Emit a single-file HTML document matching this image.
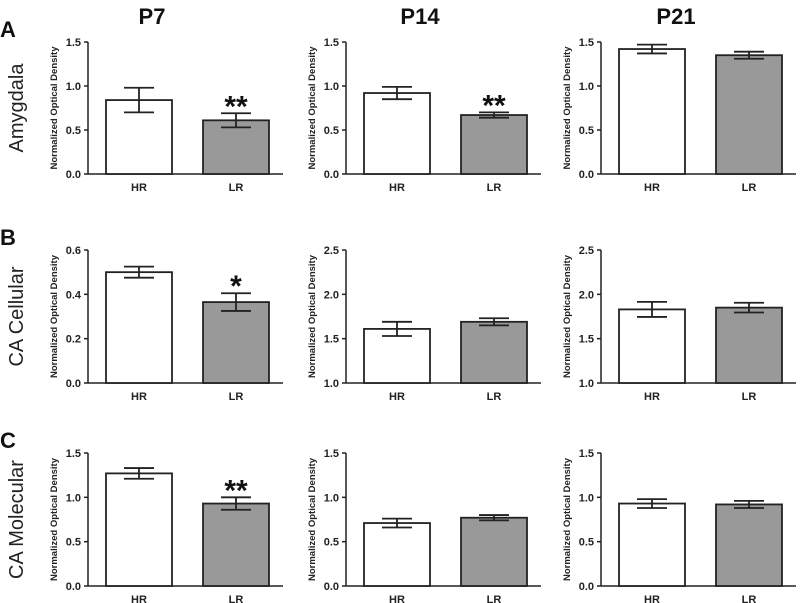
<!DOCTYPE html>
<html><head><meta charset="utf-8"><style>
body{margin:0;background:#fff;}
svg{display:block;font-family:"Liberation Sans",Arial,sans-serif;}
</style></head><body>
<svg id="fig" width="800" height="603" viewBox="0 0 800 603"></svg>
<script>
const columns = ["P7","P14","P21"];
const rows = ["Amygdala","CA Cellular","CA Molecular"];
const rowLetters = ["A","B","C"];
const groups = ["HR","LR"];
// values[row][col] = [HR, LR]
const meansA = [[0.84,0.61],[0.92,0.67],[1.42,1.35]];
const errsA  = [[0.14,0.08],[0.07,0.03],[0.05,0.04]];
const meansB = [[0.50,0.365],[1.61,1.69],[1.83,1.85]];
const errsB  = [[0.025,0.04],[0.08,0.04],[0.085,0.055]];
const meansC = [[1.27,0.93],[0.71,0.77],[0.93,0.92]];
const errsC  = [[0.06,0.07],[0.05,0.03],[0.05,0.04]];
const sigA = [["","**"],["","**"],["",""]];
const sigB = [["","*"],["",""],["",""]];
const sigC = [["","**"],["",""],["",""]];
const ticksA = [[0,0.5,1.0,1.5],[0,0.5,1.0,1.5],[0,0.5,1.0,1.5]];
const ticksB = [[0,0.2,0.4,0.6],[1.0,1.5,2.0,2.5],[1.0,1.5,2.0,2.5]];
const ticksC = [[0,0.5,1.0,1.5],[0,0.5,1.0,1.5],[0,0.5,1.0,1.5]];

const allMeans=[meansA,meansB,meansC], allErrs=[errsA,errsB,errsC], allSig=[sigA,sigB,sigC], allTicks=[ticksA,ticksB,ticksC];
const NS="http://www.w3.org/2000/svg";
const svg=document.getElementById('fig');
function mk(tag,attrs,parent){const e=document.createElementNS(NS,tag);for(const k in attrs)e.setAttribute(k,attrs[k]);(parent||svg).appendChild(e);return e;}
const axisX=[88,346,601];
const rowTop=[42,250,453], rowBot=[174,383,586];
const titleX=[152,420,676];
columns.forEach((c,i)=>{
  const t=mk('text',{x:titleX[i],y:24,'text-anchor':'middle','font-size':22,'font-weight':'bold',fill:'#111'});
  
  
  t.textContent=c;
});
rows.forEach((r,ri)=>{
  const L=mk('text',{x:0,y:rowTop[ri]-5,'font-size':22,'font-weight':'bold',fill:'#111'});
  
  
  L.textContent=rowLetters[ri];
  const cy=(rowTop[ri]+rowBot[ri])/2;
  const R=mk('text',{x:23,y:cy,'text-anchor':'middle','font-size':20,fill:'#222',transform:`rotate(-90 23 ${cy})`});
  
  
  R.textContent=r;
  columns.forEach((c,ci)=>{
    const g=mk('g',{});
    
    
    const ticks=allTicks[ri][ci];
    const y0=ticks[0], y1=ticks[ticks.length-1];
    const top=rowTop[ri], bot=rowBot[ri], ax=axisX[ci];
    const yS=v=>bot-(v-y0)/(y1-y0)*(bot-top);
    mk('line',{x1:ax,y1:top,x2:ax,y2:bot,stroke:'#222','stroke-width':1.5},g);
    mk('line',{x1:ax,y1:bot,x2:ax+195,y2:bot,stroke:'#222','stroke-width':1.5},g);
    ticks.forEach(t=>{
      mk('line',{x1:ax-4,y1:yS(t),x2:ax,y2:yS(t),stroke:'#222','stroke-width':1.5},g);
      const tl=mk('text',{x:ax-7,y:yS(t)+4,'text-anchor':'end','font-size':11,'font-weight':'bold',fill:'#222'},g);
      
      
      tl.textContent=t.toFixed(1);
    });
    const yt=mk('text',{x:0,y:0,'text-anchor':'middle','font-size':9.5,'font-weight':'bold',fill:'#222',transform:`translate(${ax-31},${(top+bot)/2}) rotate(-90)`},g);
    
    
    yt.textContent='Normalized Optical Density';
    groups.forEach((gr,gi)=>{
      const bx=ax+18+gi*97, bw=66;
      const m=allMeans[ri][ci][gi], e=allErrs[ri][ci][gi];
      const b=mk('rect',{x:bx,y:yS(m),width:bw,height:bot-yS(m),fill:gi?'#999':'#fff',stroke:'#222','stroke-width':1.8},g);
      
      
      const cx=bx+bw/2;
      const eb=mk('path',{d:`M${cx-15},${yS(m+e)}H${cx+15}M${cx},${yS(m+e)}V${yS(m-e)}M${cx-15},${yS(m-e)}H${cx+15}`,stroke:'#222','stroke-width':1.8,fill:'none'},g);
      
      
      const xl=mk('text',{x:cx,y:bot+17,'text-anchor':'middle','font-size':11,'font-weight':'bold',fill:'#222'},g);
      
      
      xl.textContent=gr;
      const s=allSig[ri][ci][gi];
      if(s){
        const st=mk('text',{x:cx,y:yS(m+e)+3,'text-anchor':'middle','font-size':30,'font-weight':'bold',fill:'#111'},g);
        
        
        st.textContent=s;
      }
    });
  });
});
</script>
</body></html>
